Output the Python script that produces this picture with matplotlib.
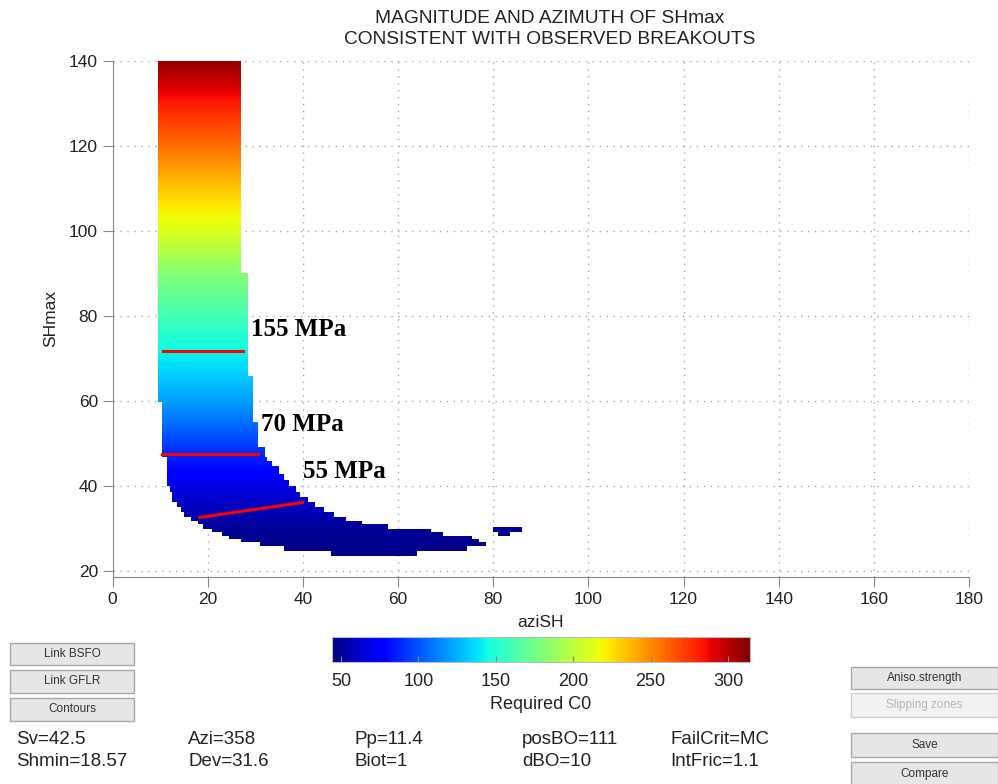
import numpy as np
import matplotlib
matplotlib.use("Agg")
import matplotlib.pyplot as plt
from matplotlib.path import Path
from matplotlib.patches import PathPatch, Rectangle

plt.rcParams['font.family'] = ['Liberation Sans', 'DejaVu Sans']

# rows of the admissible region: SHmax bottom/top, azimuth left/right
row_lo = [23.7, 24.8, 26.0, 26.9, 27.6, 28.4, 29.2, 29.9, 31.1, 31.9, 32.7, 33.9, 35.1,
          36.3, 37.4, 38.6, 40.0, 41.4, 43.0, 44.7, 45.9, 46.8, 49.3, 55.0, 59.7, 65.8, 90.2]
row_hi = [24.8, 26.0, 26.9, 27.6, 28.4, 29.2, 29.9, 31.1, 31.9, 32.7, 33.9, 35.1, 36.3,
          37.4, 38.6, 40.0, 41.4, 43.0, 44.7, 45.9, 46.8, 49.3, 55.0, 59.7, 65.8, 90.2, 140.0]
azi_left = [46, 36, 31, 27, 24.5, 23, 21, 19, 18, 16.5, 15, 14.5, 13.5,
            12.5, 12.5, 12, 11.5, 11.5, 11.5, 11.5, 11.5, 10.5, 10.5, 10.5, 9.5, 9.5, 9.5]
azi_right = [64, 74.5, 78.5, 77, 75.5, 69.5, 67, 58, 52.5, 49, 46.5, 44.5, 42.5,
             41, 39.5, 38.5, 37, 36, 35, 33.5, 32.5, 32, 30.5, 29.5, 29.5, 28.5, 27]

# small isolated patch near azi 80-86
island_lo = [29.2, 28.3]
island_hi = [30.4, 29.2]
island_left = [80, 81]
island_right = [86, 83.5]

# required C0 read along SHmax (20, 30, ... 140)
shmax_levels = [20, 30, 40, 50, 60, 70, 80, 90, 100, 110, 120, 130, 140]
c0_levels = [44, 50, 68, 95, 120, 140, 160, 182, 210, 233, 258, 282, 310]

# red lines (azi, SHmax) and labels
red_lines = [([10.7, 27.5], [71.7, 71.7]),
             ([10.5, 30.6], [47.5, 47.5]),
             ([18.4, 40.0], [32.7, 36.2])]
labels = ['155 MPa', '70 MPa', '55 MPa']
label_x = [29.2, 31.3, 40.1]
label_y = [75.2, 53.0, 42.0]

params = [('Sv=42.5', 'Shmin=18.57'), ('Azi=358', 'Dev=31.6'), ('Pp=11.4', 'Biot=1'),
          ('posBO=111', 'dBO=10'), ('FailCrit=MC', 'IntFric=1.1')]
param_x = [16, 188, 355, 522, 670]

W, H = 998, 784
fig = plt.figure(figsize=(W / 100, H / 100), dpi=100)
ax = fig.add_axes([112.5 / W, 1 - 577 / H, 856.5 / W, (577 - 60.5) / H])

verts, codes = [], []
for b, t, l, r in zip(row_lo + island_lo, row_hi + island_hi,
                      azi_left + island_left, azi_right + island_right):
    verts += [(l, b), (r, b), (r, t), (l, t), (l, b)]
    codes += [Path.MOVETO, Path.LINETO, Path.LINETO, Path.LINETO, Path.CLOSEPOLY]
clip = PathPatch(Path(verts, codes), transform=ax.transData, facecolor='none', edgecolor='none')
ax.add_patch(clip)

vmin, vmax = 44, 314
im = ax.imshow(np.array(c0_levels)[:, None], extent=[0, 180, 15, 145], origin='lower',
               aspect='auto', cmap='jet', vmin=vmin, vmax=vmax, interpolation='bilinear', zorder=1)
im.set_clip_path(clip)

for xs, ys in red_lines:
    ax.plot(xs, ys, color='red', lw=2.2, zorder=3)
for s, x, y in zip(labels, label_x, label_y):
    ax.text(x, y, s, fontsize=18, fontweight='bold', family='Liberation Serif', va='baseline', zorder=4)

ax.set_xlim(0, 180)
ax.set_ylim(18.7, 140)
ax.set_xticks(range(0, 181, 20))
ax.set_yticks(range(20, 141, 20))
ax.grid(True, color='#a8a8a8', linestyle=(0, (1, 4)), linewidth=1)
ax.set_axisbelow(True)
for s in ['top', 'right']:
    ax.spines[s].set_visible(False)
for s in ['left', 'bottom']:
    ax.spines[s].set_color('#888888')
ax.tick_params(colors='#888888', labelcolor='#222222', labelsize=12.5, length=7, direction='out')
ax.set_xlabel('aziSH', fontsize=12.5, color='#222222', labelpad=6)
ax.set_ylabel('SHmax', fontsize=12.5, color='#222222', labelpad=8)
ax.set_title('MAGNITUDE AND AZIMUTH OF SHmax\nCONSISTENT WITH OBSERVED BREAKOUTS',
             fontsize=13.8, color='#222222', x=(550 - 112.5) / 856.5, pad=12, linespacing=1.3)

cax = fig.add_axes([331.7 / W, 1 - 662 / H, 418 / W, 25 / H])
cb = fig.colorbar(im, cax=cax, orientation='horizontal', ticks=[50, 100, 150, 200, 250, 300])
cb.outline.set_edgecolor('#bbbbbb')
cax.tick_params(labelsize=13, labelcolor='#222222', color='#888888', length=4, direction='in', pad=8)
cb.set_label('Required C0', fontsize=13, color='#222222', labelpad=4)

# gui buttons
buttons = [('Link BSFO', 10, 643, 124, 22, True), ('Link GFLR', 10, 670, 124, 23, True),
           ('Contours', 10, 698, 124, 23, True), ('Aniso.strength', 851, 667, 147, 22, True),
           ('Slipping zones', 851, 693, 147, 24, False), ('Save', 851, 733, 147, 24, True),
           ('Compare', 851, 762, 147, 24, True)]
for txt, x, y, w, h, on in buttons:
    fig.patches.append(Rectangle((x / W, 1 - (y + h) / H), w / W, h / H, transform=fig.transFigure,
                                 facecolor='#e6e6e6' if on else '#f2f2f2',
                                 edgecolor='#a8a8a8' if on else '#d0d0d0', lw=1))
    fig.text((x + w / 2) / W, 1 - (y + h / 2) / H, txt, ha='center', va='center', fontsize=8.5,
             color='#333333' if on else '#b5b5b5')

for (a, b), x in zip(params, param_x):
    fig.text(x / W, 1 - 740 / H, a, fontsize=13.5, va='center', color='#222222')
    fig.text(x / W, 1 - 761 / H, b, fontsize=13.5, va='center', color='#222222')

fig.savefig('out.png', dpi=100, facecolor='white')
